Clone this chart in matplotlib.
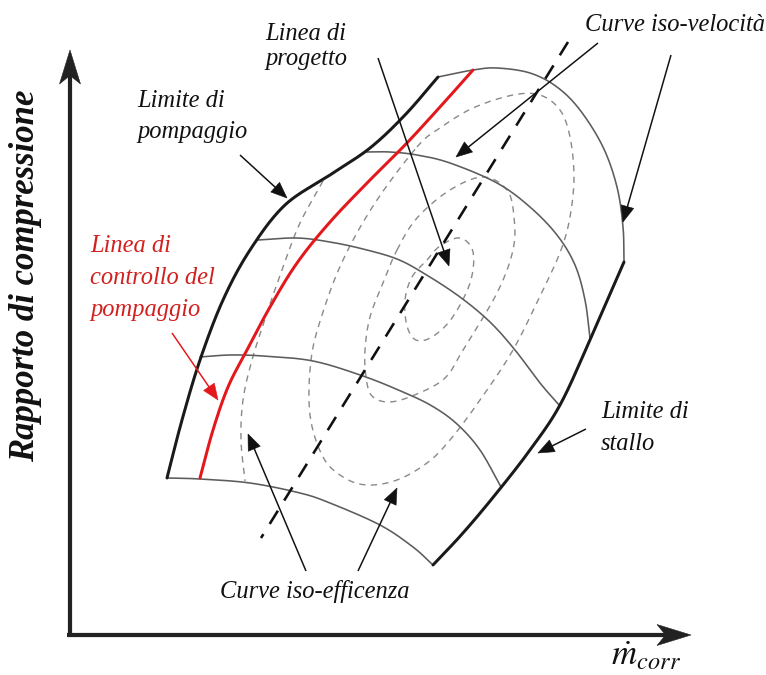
import numpy as np
import matplotlib
matplotlib.use("Agg")
import matplotlib.pyplot as plt
from matplotlib.patches import Polygon

W, H = 766, 675

# ---- curve control points (pixel space of the drawing) ----
# iso-speed lines, from the surge limit to the stall limit
speed_1 = [(438, 77), (473, 70), (497, 68), (530, 73), (557, 87), (580, 110),
           (603, 147), (617, 187), (623, 227), (624, 262)]
speed_2 = [(366, 152), (390, 152), (417, 155), (450, 163), (497, 183), (530, 207),
           (557, 235), (575, 265), (585, 300), (590, 338)]
speed_3 = [(258, 240), (297, 238), (330, 242), (363, 249), (397, 259), (425, 274),
           (460, 297), (490, 322), (515, 350), (540, 383), (560, 406)]
speed_4 = [(200, 357), (230, 355), (263, 356), (313, 361), (363, 376), (403, 392),
           (432, 406), (457, 424), (480, 450), (501, 487)]
speed_5 = [(167, 478), (200, 479), (250, 483), (300, 493), (330, 503), (380, 525),
           (413, 547), (433, 565)]

surge_limit = [(167, 478), (182, 420), (200, 360), (223, 300), (250, 250), (285, 205),
               (330, 175), (370, 148), (405, 115), (438, 77)]
stall_limit = [(624, 262), (590, 340), (560, 405), (530, 450), (495, 495), (463, 533),
               (433, 565)]
surge_control = [(200, 478), (213, 430), (228, 387), (247, 350), (270, 307), (297, 263),
                 (330, 222), (370, 180), (405, 145), (440, 107), (473, 70)]

# iso-efficiency islands (closed) and the open outer contour
eff_inner = [(427, 260), (440, 246), (460, 238), (473, 252), (470, 283), (452, 318),
             (432, 337), (416, 340), (407, 326), (405, 300), (412, 277)]
eff_mid = [(397, 250), (417, 218), (450, 190), (483, 177), (507, 190), (514, 217),
           (513, 250), (497, 293), (463, 350), (445, 378), (417, 394), (390, 402),
           (372, 396), (366, 377), (365, 350), (370, 317), (383, 283)]
eff_outer = [(417, 147), (440, 128), (473, 108), (513, 95), (540, 95), (560, 110),
             (570, 137), (574, 177), (570, 217), (561, 250), (543, 290), (513, 350),
             (480, 400), (450, 440), (427, 463), (397, 480), (367, 485), (343, 477),
             (323, 457), (310, 415), (311, 360), (322, 315), (343, 260), (375, 203)]
eff_open = [(323, 181), (300, 223), (283, 267), (267, 313), (252, 360), (243, 400),
            (241, 440), (245, 481)]

design_line = [(568, 42), (261, 538)]

# ---- labels ----
lbl_design = ["Linea di", "progetto"]
lbl_speed = "Curve iso-velocità"
lbl_surge = ["Limite di", "pompaggio"]
lbl_control = ["Linea di", "controllo del", "pompaggio"]
lbl_stall = ["Limite di", "stallo"]
lbl_eff = "Curve iso-efficenza"
lbl_y = "Rapporto di compressione"
lbl_x = r"$\dot{m}_{corr}$"

RED = "#e3181d"
RED_TXT = "#d0211f"
INK = "#111111"
GRAY = "#5c5c5c"
DASH_GRAY = "#8a8a8a"
PT = 0.72  # points per pixel at 100 dpi


def catmull_rom(pts, n=24, closed=False):
    P = np.asarray(pts, float)
    if closed:
        P = np.vstack([P[-1], P, P[0], P[1]])
    else:
        P = np.vstack([2 * P[0] - P[1], P, 2 * P[-1] - P[-2]])
    t = np.linspace(0, 1, n, endpoint=False)[:, None]
    segs = []
    for i in range(1, len(P) - 2):
        p0, p1, p2, p3 = P[i - 1], P[i], P[i + 1], P[i + 2]
        segs.append(0.5 * (2 * p1 + (-p0 + p2) * t
                           + (2 * p0 - 5 * p1 + 4 * p2 - p3) * t ** 2
                           + (-p0 + 3 * p1 - 3 * p2 + p3) * t ** 3))
    segs.append(P[-2][None, :])
    return np.vstack(segs)


def curve(ax, pts, closed=False, **kw):
    c = catmull_rom(pts, closed=closed)
    ax.plot(c[:, 0], c[:, 1], solid_capstyle="round", **kw)


def arrow(ax, tail, tip, lw, head_len, head_w, color, notch=0.0, z=6):
    tail = np.asarray(tail, float)
    tip = np.asarray(tip, float)
    d = tip - tail
    u = d / np.hypot(*d)
    n = np.array([-u[1], u[0]])
    base = tip - u * head_len
    back = tip - u * head_len * (1 - notch)
    ax.plot([tail[0], back[0] + u[0]], [tail[1], back[1] + u[1]],
            color=color, lw=lw, solid_capstyle="butt", zorder=z)
    ax.add_patch(Polygon([tip, base + n * head_w / 2, back, base - n * head_w / 2],
                         closed=True, fc=color, ec=color, lw=0.4, zorder=z))


fig = plt.figure(figsize=(W / 100, H / 100), dpi=100)
ax = fig.add_axes([0, 0, 1, 1])
ax.set_xlim(0, W)
ax.set_ylim(H, 0)
ax.axis("off")

# iso-efficiency contours
dash_kw = dict(color=DASH_GRAY, lw=1.4 * PT, dashes=(4.5, 3.8), zorder=2)
curve(ax, eff_open, **dash_kw)
for loop in (eff_outer, eff_mid, eff_inner):
    curve(ax, loop, closed=True, **dash_kw)

# iso-speed lines
for s in (speed_1, speed_2, speed_3, speed_4, speed_5):
    curve(ax, s, color=GRAY, lw=1.6 * PT, zorder=3)

# design operating line
dx, dy = zip(*design_line)
ax.plot(dx, dy, color=INK, lw=2.6 * PT, dashes=(6.0, 4.6), zorder=4)

# surge control line and the two limits
curve(ax, surge_control, color=RED, lw=3.0 * PT, zorder=4)
curve(ax, surge_limit, color="#1a1a1a", lw=3.0 * PT, zorder=5)
curve(ax, stall_limit, color="#1a1a1a", lw=3.0 * PT, zorder=5)

# chart axes
arrow(ax, (70, 637), (70, 50), 4.2 * PT, 34, 21, "#222222", notch=0.25)
arrow(ax, (67, 635), (691, 635), 4.2 * PT, 34, 21, "#222222", notch=0.25)

# pointer arrows
alw = 1.5 * PT
arrow(ax, (378, 58), (449, 266), alw, 16, 13, INK)
arrow(ax, (598, 43), (456, 157), alw, 16, 13, INK)
arrow(ax, (671, 55), (623, 222), alw, 16, 13, INK)
arrow(ax, (240, 155), (287, 198), alw, 16, 13, INK)
arrow(ax, (172, 333), (218, 400), alw, 16, 13, RED)
arrow(ax, (586, 429), (538, 453), alw, 16, 13, INK)
arrow(ax, (306, 571), (248, 434), alw, 16, 13, INK)
arrow(ax, (358, 571), (397, 488), alw, 16, 13, INK)

# ---- text ----
renderer = fig.canvas.get_renderer()
serif = dict(family="Liberation Serif", style="italic")


def width_at(s, size, **kw):
    t = ax.text(0, 0, s, fontsize=size, **kw)
    w = t.get_window_extent(renderer).width
    t.remove()
    return w


fs = 12 * 190 / width_at(lbl_eff, 12, **serif)

def lines(x, y0, step, texts, color=INK):
    for i, s in enumerate(texts):
        ax.text(x, y0 + i * step, s, fontsize=fs, color=color, ha="left",
                va="baseline", zorder=7, **serif)

lines(265, 40, 25, lbl_design)
lines(585, 31, 0, [lbl_speed])
lines(137, 107, 31, lbl_surge)
lines(90, 252, 32, lbl_control, color=RED_TXT)
lines(601, 418, 32, lbl_stall)
lines(220, 598, 0, [lbl_eff])

ybold = dict(family="Liberation Serif", style="italic", weight="bold")
fy = 20 * 373 / width_at(lbl_y, 20, **ybold)
ax.text(34, 276, lbl_y, fontsize=fy, rotation=90, rotation_mode="anchor",
        ha="center", va="baseline", color=INK, **ybold)

ax.text(611, 665, lbl_x, fontsize=25, color=INK, ha="left", va="baseline",
        math_fontfamily="stix")

fig.savefig("out.png", dpi=100, facecolor="white")
